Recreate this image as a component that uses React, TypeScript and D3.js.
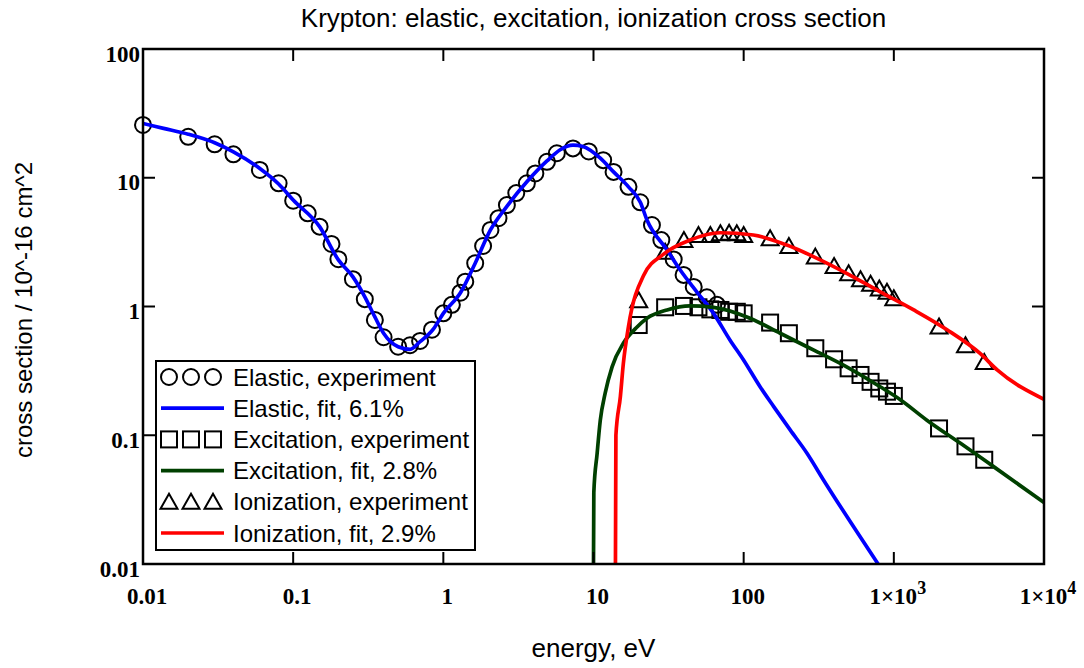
import React from "react";
import * as d3 from "d3";

// ---------- data ----------
const elasticExpE = [0.01, 0.02, 0.03, 0.04, 0.06, 0.08, 0.1, 0.125, 0.15, 0.18, 0.2, 0.25, 0.3, 0.35, 0.4, 0.5, 0.6, 0.7, 0.84, 1.0, 1.14, 1.3, 1.4, 1.63, 1.84, 2.06, 2.33, 2.65, 3.06, 3.6, 4.1, 4.9, 5.7, 7.3, 9.3, 11.6, 13.6, 17.1, 20.5, 24.5, 28.3, 34.2, 39.8, 46.5, 56.9, 66.4];
const elasticExpQ = [25.7, 20.8, 18.2, 15.2, 11.5, 9.06, 6.63, 5.29, 4.17, 3.06, 2.33, 1.63, 1.14, 0.786, 0.577, 0.487, 0.5, 0.54, 0.66, 0.885, 1.03, 1.28, 1.56, 2.17, 2.95, 3.93, 4.85, 6.14, 7.6, 9.06, 10.8, 13.3, 15.5, 16.9, 16.0, 13.7, 11.1, 8.5, 6.45, 4.29, 3.28, 2.32, 1.76, 1.42, 1.18, 1.03];

const elasticFitE = [0.01, 0.0137, 0.02, 0.03, 0.04, 0.06, 0.08, 0.1, 0.15, 0.2, 0.25, 0.3, 0.35, 0.4, 0.5, 0.6, 0.7, 0.86, 1.0, 1.3, 1.63, 2.06, 2.65, 3.6, 4.9, 6.0, 7.3, 8.5, 11.1, 13.6, 17.1, 20.5, 22.7, 30.9, 37.8, 48.7, 63, 81, 99.8, 128.6, 158.5, 204, 264, 340, 786];
const elasticFitQ = [26.4, 24.2, 21.8, 18.7, 15.9, 11.8, 8.94, 6.72, 4.17, 2.3, 1.7, 1.19, 0.83, 0.62, 0.487, 0.465, 0.533, 0.67, 0.885, 1.28, 2.17, 3.93, 6.0, 9.3, 13.5, 16.5, 17.9, 17.5, 14.2, 11.1, 8.5, 6.45, 4.7, 2.75, 1.92, 1.3, 0.885, 0.55, 0.384, 0.238, 0.167, 0.11, 0.0725, 0.045, 0.01];

const inelE = [20, 30, 40, 50, 60, 70, 80, 90, 100, 150, 200, 300, 400, 500, 600, 700, 800, 900, 1000, 2000, 3000, 4000];
const excitationExpQ = [0.718, 0.986, 1.01, 0.986, 0.95, 0.94, 0.91, 0.91, 0.885, 0.75, 0.62, 0.474, 0.389, 0.331, 0.294, 0.26, 0.231, 0.218, 0.202, 0.113, 0.082, 0.0645];
const ionizationExpQ = [1.12, 2.66, 3.28, 3.59, 3.59, 3.7, 3.74, 3.7, 3.59, 3.39, 2.95, 2.44, 2.06, 1.81, 1.63, 1.5, 1.38, 1.3, 1.16, 0.7, 0.5, 0.37];

const excitationFitE = [10.0, 10.05, 10.57, 11.1, 11.96, 13.3, 15.8, 19.2, 22.7, 30.9, 44, 63, 105, 175, 291, 485, 811, 1110, 1660, 2780, 4640, 10000];
const excitationFitQ = [0.01, 0.036, 0.072, 0.131, 0.212, 0.34, 0.518, 0.68, 0.81, 0.94, 1.01, 0.985, 0.83, 0.62, 0.46, 0.34, 0.238, 0.188, 0.131, 0.0866, 0.0568, 0.03];

const ionizationFitE = [14.0, 14.1, 15.1, 15.8, 17.1, 21.6, 29.3, 44, 69.7, 116, 194, 291, 485, 811, 1357, 2260, 3770, 4900, 10000];
const ionizationFitQ = [0.01, 0.1, 0.2, 0.36, 0.7, 1.75, 2.55, 3.28, 3.74, 3.59, 3.0, 2.44, 1.81, 1.3, 0.94, 0.66, 0.43, 0.32, 0.19];

const xTicks = [0.01, 0.1, 1, 10, 100, 1000, 10000];
const xTickBase = ["0.01", "0.1", "1", "10", "100", "1×10", "1×10"];
const xTickSup = ["", "", "", "", "", "3", "4"];
const yTicks = [0.01, 0.1, 1, 10, 100];
const yTickLabels = ["0.01", "0.1", "1", "10", "100"];

const legendLabels = [
  "Elastic, experiment",
  "Elastic, fit, 6.1%",
  "Excitation, experiment",
  "Excitation, fit, 2.8%",
  "Ionization, experiment",
  "Ionization, fit, 2.9%",
];
const title = "Krypton: elastic, excitation, ionization cross section";
const xLabel = "energy, eV";
const yLabel = "cross section / 10^-16 cm^2";

// ---------- layout ----------
const W = 1084, H = 668;
const L = 143, R = 1044, T = 49, B = 564;
const BLUE = "#0000ff", GREEN = "#004000", RED = "#ff0000";
const SANS = "'Liberation Sans', Arial, sans-serif";
const SERIF = "'Liberation Serif', 'Times New Roman', serif";

const x = d3.scaleLog().domain([0.01, 10000]).range([L, R]);
const y = d3.scaleLog().domain([0.01, 100]).range([B, T]);

const zip = (e: number[], q: number[]) => e.map((v, i) => [v, q[i]] as [number, number]);
const lineGen = d3.line<[number, number]>().x((d) => x(d[0])).y((d) => y(d[1])).curve(d3.curveMonotoneX);

const Circle = ({ cx, cy }: { cx: number; cy: number }) => (
  <circle cx={cx} cy={cy} r={8} fill="none" stroke="#000" strokeWidth={2} />
);
const Square = ({ cx, cy }: { cx: number; cy: number }) => (
  <rect x={cx - 8} y={cy - 8} width={16} height={16} fill="none" stroke="#000" strokeWidth={2} />
);
const Tri = ({ cx, cy }: { cx: number; cy: number }) => (
  <path d={`M${cx},${cy - 8}L${cx + 8.5},${cy + 7}L${cx - 8.5},${cy + 7}Z`} fill="none" stroke="#000" strokeWidth={2} strokeLinejoin="miter" />
);

export default function App() {
  const tickLen = 12;
  const legX = 156, legY = 361, legW = 319, legH = 189;
  const rowY = (i: number) => 377 + i * 31.2;
  const symX = [169, 191, 213];
  return (
    <svg width={W} height={H} style={{ position: "absolute", left: 0, top: 0, background: "#fff" }}>
      <defs>
        <clipPath id="plot">
          <rect x={L} y={T} width={R - L} height={B - T} />
        </clipPath>
      </defs>
      <rect x={0} y={0} width={W} height={H} fill="#fff" />
      {/* title */}
      <text x={(L + R) / 2} y={27} textAnchor="middle" fontFamily={SANS} fontSize={26}>{title}</text>

      {/* markers */}
      <g>
        {zip(elasticExpE, elasticExpQ).map((d, i) => <Circle key={"c" + i} cx={x(d[0])} cy={y(d[1])} />)}
        {zip(inelE, excitationExpQ).map((d, i) => <Square key={"s" + i} cx={x(d[0])} cy={y(d[1])} />)}
        {zip(inelE, ionizationExpQ).map((d, i) => <Tri key={"t" + i} cx={x(d[0])} cy={y(d[1])} />)}
      </g>
      {/* fit lines */}
      <g clipPath="url(#plot)" fill="none" strokeWidth={3.7} strokeLinejoin="round">
        <path d={lineGen(zip(elasticFitE, elasticFitQ)) || ""} stroke={BLUE} />
        <path d={lineGen(zip(excitationFitE, excitationFitQ)) || ""} stroke={GREEN} />
        <path d={lineGen(zip(ionizationFitE, ionizationFitQ)) || ""} stroke={RED} />
      </g>

      {/* frame */}
      <rect x={L} y={T} width={R - L} height={B - T} fill="none" stroke="#000" strokeWidth={2.5} />
      {/* ticks */}
      {xTicks.map((t, i) => (
        <g key={"xt" + i}>
          <line x1={x(t)} x2={x(t)} y1={B} y2={B - tickLen} stroke="#000" strokeWidth={2} />
          <line x1={x(t)} x2={x(t)} y1={T} y2={T + tickLen} stroke="#000" strokeWidth={2} />
          <text x={x(t) + 4} y={604} textAnchor="middle" fontFamily={SERIF} fontWeight="bold" fontSize={23}>
            {xTickBase[i]}
            {xTickSup[i] ? <tspan dy={-10} fontSize={18}>{xTickSup[i]}</tspan> : null}
          </text>
        </g>
      ))}
      {yTicks.map((t, i) => (
        <g key={"yt" + i}>
          <line x1={L} x2={L + tickLen} y1={y(t)} y2={y(t)} stroke="#000" strokeWidth={2} />
          <line x1={R} x2={R - tickLen} y1={y(t)} y2={y(t)} stroke="#000" strokeWidth={2} />
          <text x={140} y={y(t) + 12.5} textAnchor="end" fontFamily={SERIF} fontWeight="bold" fontSize={23}>{yTickLabels[i]}</text>
        </g>
      ))}

      {/* axis titles */}
      <text x={(L + R) / 2} y={657} textAnchor="middle" fontFamily={SANS} fontSize={26}>{xLabel}</text>
      <text transform={`translate(32,310) rotate(-90)`} textAnchor="middle" fontFamily={SANS} fontSize={24}>{yLabel}</text>

      {/* legend */}
      <rect x={legX} y={legY} width={legW} height={legH} fill="#fff" stroke="#000" strokeWidth={2} />
      {legendLabels.map((lab, i) => {
        const cy = rowY(i);
        let sym: React.ReactNode = null;
        if (i === 0) sym = symX.map((sx, k) => <Circle key={k} cx={sx} cy={cy} />);
        else if (i === 2) sym = symX.map((sx, k) => <Square key={k} cx={sx} cy={cy} />);
        else if (i === 4) sym = symX.map((sx, k) => <Tri key={k} cx={sx} cy={cy} />);
        else {
          const col = i === 1 ? BLUE : i === 3 ? GREEN : RED;
          sym = <line x1={161} x2={224} y1={cy} y2={cy} stroke={col} strokeWidth={3.7} />;
        }
        return (
          <g key={"lg" + i}>
            {sym}
            <text x={233} y={cy + 8.5} fontFamily={SANS} fontSize={24}>{lab}</text>
          </g>
        );
      })}
    </svg>
  );
}
